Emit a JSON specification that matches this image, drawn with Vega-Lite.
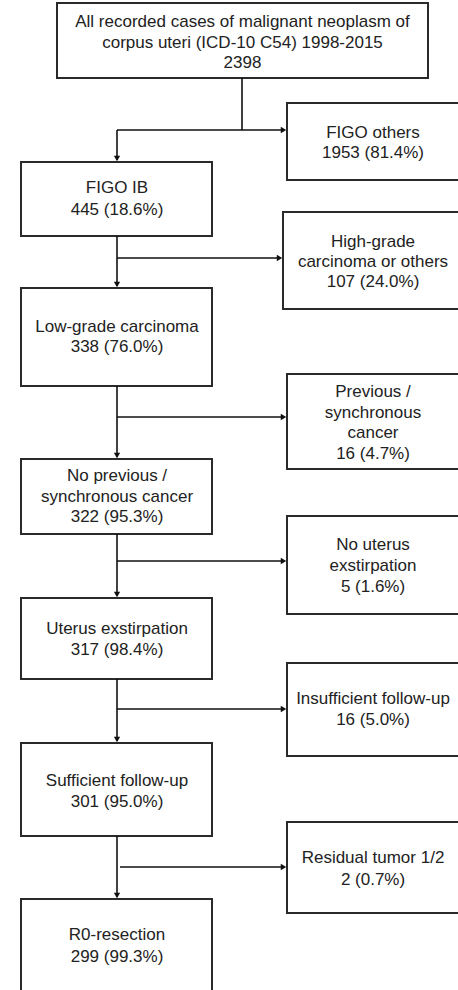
{
  "$schema": "https://vega.github.io/schema/vega-lite/v6.json",
  "width": 458,
  "height": 990,
  "padding": 0,
  "autosize": {"type": "fit", "contains": "padding"},
  "background": "white",
  "view": {"stroke": null},
  "datasets": {
    "boxes": [
      {"id": "all", "x": 57, "x2": 428, "y": 3, "y2": 78},
      {"id": "figoothers", "x": 287, "x2": 470, "y": 103, "y2": 180},
      {"id": "figoib", "x": 21, "x2": 212, "y": 162, "y2": 236},
      {"id": "highgrade", "x": 283, "x2": 470, "y": 212, "y2": 309},
      {"id": "lowgrade", "x": 21, "x2": 212, "y": 288, "y2": 386},
      {"id": "previous", "x": 287, "x2": 470, "y": 374, "y2": 469},
      {"id": "noprevious", "x": 21, "x2": 212, "y": 459, "y2": 534},
      {"id": "nouterus", "x": 287, "x2": 470, "y": 516, "y2": 614},
      {"id": "uterus", "x": 21, "x2": 212, "y": 598, "y2": 679},
      {"id": "insufficient", "x": 287, "x2": 470, "y": 663, "y2": 756},
      {"id": "sufficient", "x": 21, "x2": 212, "y": 743, "y2": 836},
      {"id": "residual", "x": 287, "x2": 470, "y": 822, "y2": 913},
      {"id": "r0", "x": 21, "x2": 212, "y": 899, "y2": 1010}
    ],
    "lines": [
      {"x": 242, "x2": 242, "y": 78, "y2": 130},
      {"x": 117, "x2": 284, "y": 130, "y2": 130},
      {"x": 117, "x2": 117, "y": 130, "y2": 160},
      {"x": 117, "x2": 117, "y": 236, "y2": 286},
      {"x": 117, "x2": 280, "y": 258, "y2": 258},
      {"x": 117, "x2": 117, "y": 386, "y2": 457},
      {"x": 117, "x2": 284, "y": 417, "y2": 417},
      {"x": 117, "x2": 117, "y": 534, "y2": 596},
      {"x": 117, "x2": 284, "y": 561, "y2": 561},
      {"x": 117, "x2": 117, "y": 679, "y2": 741},
      {"x": 117, "x2": 284, "y": 709, "y2": 709},
      {"x": 117, "x2": 117, "y": 836, "y2": 897},
      {"x": 120, "x2": 284, "y": 867, "y2": 867}
    ],
    "arrows": [
      {"x": 117, "y": 158.5, "dir": "down"},
      {"x": 283.5, "y": 130, "dir": "right"},
      {"x": 117, "y": 284.5, "dir": "down"},
      {"x": 279.5, "y": 258, "dir": "right"},
      {"x": 117, "y": 455.5, "dir": "down"},
      {"x": 283.5, "y": 417, "dir": "right"},
      {"x": 117, "y": 594.5, "dir": "down"},
      {"x": 283.5, "y": 561, "dir": "right"},
      {"x": 117, "y": 739.5, "dir": "down"},
      {"x": 283.5, "y": 709, "dir": "right"},
      {"x": 117, "y": 895.5, "dir": "down"},
      {"x": 283.5, "y": 867, "dir": "right"}
    ],
    "texts": [
      {"x": 242.5, "y": 22, "text": "All recorded cases of malignant neoplasm of"},
      {"x": 242.5, "y": 43, "text": "corpus uteri (ICD-10 C54) 1998-2015"},
      {"x": 242.5, "y": 63, "text": "2398"},
      {"x": 373, "y": 133, "text": "FIGO others"},
      {"x": 373, "y": 153, "text": "1953 (81.4%)"},
      {"x": 117, "y": 188, "text": "FIGO IB"},
      {"x": 117, "y": 210, "text": "445 (18.6%)"},
      {"x": 373, "y": 242, "text": "High-grade"},
      {"x": 373, "y": 262, "text": "carcinoma or others"},
      {"x": 373, "y": 282, "text": "107 (24.0%)"},
      {"x": 117, "y": 327, "text": "Low-grade carcinoma"},
      {"x": 117, "y": 347, "text": "338 (76.0%)"},
      {"x": 373, "y": 392, "text": "Previous /"},
      {"x": 373, "y": 413, "text": "synchronous"},
      {"x": 373, "y": 433, "text": "cancer"},
      {"x": 373, "y": 454, "text": "16 (4.7%)"},
      {"x": 117, "y": 476, "text": "No previous /"},
      {"x": 117, "y": 497, "text": "synchronous cancer"},
      {"x": 117, "y": 517, "text": "322 (95.3%)"},
      {"x": 373, "y": 545, "text": "No uterus"},
      {"x": 373, "y": 566, "text": "exstirpation"},
      {"x": 373, "y": 587, "text": "5 (1.6%)"},
      {"x": 117, "y": 629, "text": "Uterus exstirpation"},
      {"x": 117, "y": 650, "text": "317 (98.4%)"},
      {"x": 373, "y": 699, "text": "Insufficient follow-up"},
      {"x": 373, "y": 720, "text": "16 (5.0%)"},
      {"x": 117, "y": 781, "text": "Sufficient follow-up"},
      {"x": 117, "y": 802, "text": "301 (95.0%)"},
      {"x": 373, "y": 858, "text": "Residual tumor 1/2"},
      {"x": 373, "y": 880, "text": "2 (0.7%)"},
      {"x": 117, "y": 935, "text": "R0-resection"},
      {"x": 117, "y": 957, "text": "299 (99.3%)"}
    ]
  },
  "encoding": {
    "x": {"field": "x", "type": "quantitative", "axis": null, "scale": {"domain": [0, 458], "nice": false, "zero": false}},
    "y": {"field": "y", "type": "quantitative", "axis": null, "scale": {"domain": [0, 990], "nice": false, "zero": false, "reverse": true}}
  },
  "layer": [
    {
      "data": {"name": "boxes"},
      "mark": {"type": "rect", "fill": "white", "stroke": "#2a2a2a", "strokeWidth": 2, "clip": true},
      "encoding": {
        "x2": {"field": "x2"},
        "y2": {"field": "y2"}
      }
    },
    {
      "data": {"name": "lines"},
      "mark": {"type": "rule", "stroke": "#111", "strokeWidth": 1.6, "clip": true},
      "encoding": {
        "x2": {"field": "x2"},
        "y2": {"field": "y2"}
      }
    },
    {
      "data": {"name": "arrows"},
      "mark": {"type": "point", "filled": true, "color": "#111", "size": 40, "opacity": 1, "clip": true},
      "encoding": {
        "shape": {"field": "dir", "type": "nominal", "legend": null, "scale": {"domain": ["down", "right"], "range": ["triangle-down", "triangle-right"]}}
      }
    },
    {
      "data": {"name": "texts"},
      "mark": {"type": "text", "font": "Liberation Sans", "fontSize": 17, "color": "#222", "align": "center", "baseline": "middle", "clip": true},
      "encoding": {
        "text": {"field": "text", "type": "nominal"}
      }
    }
  ]
}
